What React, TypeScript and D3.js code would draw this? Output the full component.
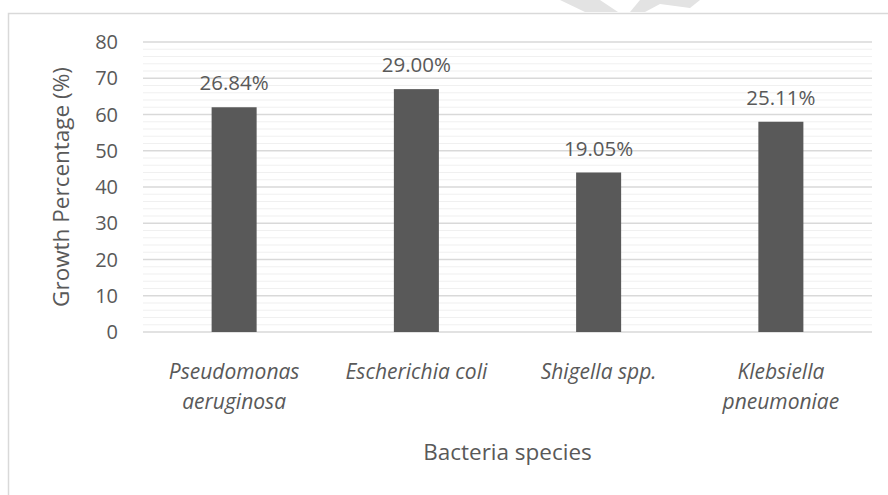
import React from 'react';
import * as d3 from 'd3';

const speciesLine1 = ['Pseudomonas', 'Escherichia coli', 'Shigella spp.', 'Klebsiella'];
const speciesLine2 = ['aeruginosa', '', '', 'pneumoniae'];
const growthValues = [62, 67, 44, 58];
const growthLabels = ['26.84%', '29.00%', '19.05%', '25.11%'];
const yTicks = [0, 10, 20, 30, 40, 50, 60, 70, 80];

const width = 888;
const height = 495;
const margin = { top: 42, right: 16, bottom: 163, left: 143 };
const font = '"Open Sans", "Segoe UI", sans-serif';
const textColor = '#595959';

export default function App() {
  const chartWidth = width - margin.left - margin.right;
  const chartHeight = height - margin.top - margin.bottom;

  const xScale = d3
    .scaleBand<number>()
    .domain(growthValues.map((_, i) => i))
    .range([0, chartWidth])
    .paddingInner(0.753)
    .paddingOuter(0.3765);

  const yScale = d3.scaleLinear().domain([0, 80]).range([chartHeight, 0]);

  // minor gridlines every 2 units
  const minorTicks = d3.range(0, 81, 2).filter((v) => v % 10 !== 0);

  return (
    <svg
      width={width}
      height={height}
      style={{ position: 'absolute', left: 0, top: 0, background: '#fff' }}
    >
      {/* chart frame */}
      <rect x={8.5} y={13.5} width={width + 20} height={height + 20} fill='none' stroke='#d9d9d9' strokeWidth={1.5} />
      {/* faint watermark piece */}
      <path d='M560,0 L600,0 L618,12 L585,12 Z M640,0 L700,0 L690,8 L660,4 L645,12 L630,12 Z' fill='#e3e3e3' />

      <g transform={`translate(${margin.left}, ${margin.top})`}>
        {minorTicks.map((v) => (
          <line key={'m' + v} x1={0} x2={chartWidth} y1={yScale(v)} y2={yScale(v)} stroke='#f0f0f0' strokeWidth={1.2} />
        ))}
        {yTicks.map((v) => (
          <line key={'g' + v} x1={0} x2={chartWidth} y1={yScale(v)} y2={yScale(v)} stroke='#d9d9d9' strokeWidth={1.3} />
        ))}
        {yTicks.map((v) => (
          <text
            key={'t' + v}
            x={-25}
            y={yScale(v)}
            dy='0.35em'
            textAnchor='end'
            fontFamily={font}
            fontSize={20}
            fill={textColor}
          >
            {v}
          </text>
        ))}

        {growthValues.map((v, i) => (
          <rect
            key={'b' + i}
            x={xScale(i)}
            y={yScale(v)}
            width={xScale.bandwidth()}
            height={chartHeight - yScale(v)}
            fill='#595959'
          />
        ))}
        {growthValues.map((v, i) => (
          <text
            key={'l' + i}
            x={(xScale(i) as number) + xScale.bandwidth() / 2}
            y={yScale(v) - 24}
            dy='0.35em'
            textAnchor='middle'
            fontFamily={font}
            fontSize={20.5}
            fill={textColor}
          >
            {growthLabels[i]}
          </text>
        ))}

        {speciesLine1.map((name, i) => (
          <text
            key={'c' + i}
            x={(xScale(i) as number) + xScale.bandwidth() / 2}
            y={chartHeight + 40}
            dy='0.35em'
            textAnchor='middle'
            fontFamily={font}
            fontStyle='italic'
            fontSize={21}
            fill={textColor}
          >
            <tspan>{name}</tspan>
            {speciesLine2[i] && (
              <tspan x={(xScale(i) as number) + xScale.bandwidth() / 2} dy={30}>
                {speciesLine2[i]}
              </tspan>
            )}
          </text>
        ))}

        <text
          x={chartWidth / 2}
          y={chartHeight + 120}
          dy='0.35em'
          textAnchor='middle'
          fontFamily={font}
          fontSize={22.5}
          fill={textColor}
        >
          Bacteria species
        </text>
        <text
          transform={`translate(${61 - margin.left}, ${chartHeight / 2}) rotate(-90)`}
          dy='0.35em'
          textAnchor='middle'
          fontFamily={font}
          fontSize={22.5}
          fill={textColor}
        >
          Growth Percentage (%)
        </text>
      </g>
    </svg>
  );
}
